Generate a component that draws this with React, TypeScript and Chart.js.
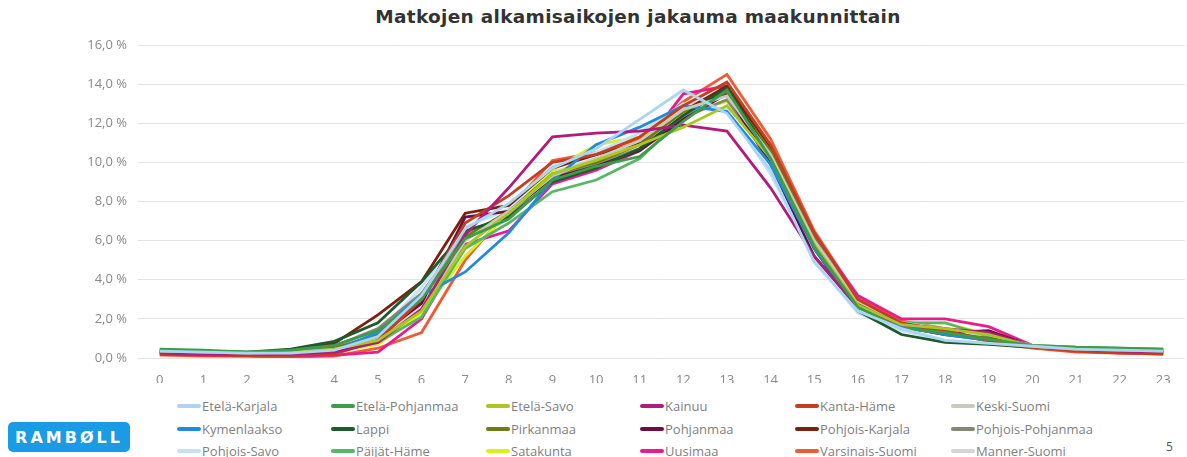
import React, { useEffect, useRef } from "react";
import { Chart, registerables } from "chart.js";

Chart.register(...registerables);

const TITLE = "Matkojen alkamisaikojen jakauma maakunnittain";
const HOURS = ["0","1","2","3","4","5","6","7","8","9","10","11","12","13","14","15","16","17","18","19","20","21","22","23"];
const Y_TICKS_MIN = 0;
const Y_TICKS_MAX = 16;
const Y_STEP = 2;

const NAMES = [
  "Etelä-Karjala", "Etelä-Pohjanmaa", "Etelä-Savo", "Kainuu", "Kanta-Häme", "Keski-Suomi",
  "Kymenlaakso", "Lappi", "Pirkanmaa", "Pohjanmaa", "Pohjois-Karjala", "Pohjois-Pohjanmaa",
  "Pohjois-Savo", "Päijät-Häme", "Satakunta", "Uusimaa", "Varsinais-Suomi", "Manner-Suomi",
];

const COLORS = [
  "#ACD5F2", "#3C9C4C", "#A8C720", "#B01C7E", "#C43E22", "#CBC9BD",
  "#1F8BE0", "#1F5A2B", "#6D7D14", "#6B1040", "#7C2012", "#858774",
  "#C2E2F6", "#56B866", "#D9F01C", "#E91C8F", "#EE5C36", "#D5D5D5",
];

const etelaKarjala = [0.35,0.3,0.25,0.25,0.4,1.1,3.2,6.6,7.9,9.7,10.7,12.2,13.7,12.5,9.6,4.9,2.4,1.5,0.9,0.75,0.6,0.45,0.4,0.35];
const etelaPohjanmaa = [0.45,0.4,0.3,0.4,0.65,1.4,3.0,6.1,7.1,9.1,9.8,10.3,12.1,13.7,10.2,5.7,2.6,1.5,1.3,0.95,0.65,0.55,0.5,0.45];
const etelaSavo = [0.35,0.3,0.25,0.3,0.45,0.9,2.4,5.7,7.4,9.4,10.1,10.9,11.8,12.9,10.2,5.8,2.7,1.7,1.5,1.2,0.6,0.45,0.4,0.35];
const kainuu = [0.25,0.2,0.2,0.2,0.3,0.8,2.5,6.3,8.7,11.3,11.5,11.6,11.9,11.6,8.7,5.2,2.6,1.7,1.5,1.3,0.6,0.45,0.35,0.3];
const kantaHame = [0.2,0.15,0.12,0.12,0.2,0.9,3.0,6.9,8.3,10.0,10.4,11.3,12.9,14.1,10.9,6.4,3.0,1.8,1.4,0.9,0.55,0.35,0.25,0.2];
const keskiSuomi = [0.35,0.3,0.25,0.25,0.35,0.9,2.5,6.0,7.5,9.3,10.2,11.1,12.7,13.4,10.4,6.0,2.9,1.8,1.5,1.2,0.65,0.5,0.4,0.35];
const kymenlaakso = [0.3,0.25,0.2,0.2,0.35,1.3,3.2,4.4,6.4,9.1,10.9,11.8,12.9,12.6,9.9,5.6,2.6,1.6,1.2,0.9,0.6,0.45,0.35,0.3];
const lappi = [0.4,0.35,0.3,0.45,0.85,1.8,3.9,6.5,7.2,9.0,9.7,10.7,12.4,13.8,10.3,5.6,2.4,1.2,0.8,0.7,0.55,0.5,0.45,0.4];
const pirkanmaa = [0.35,0.3,0.25,0.3,0.5,1.2,3.0,6.2,7.5,9.4,10.0,10.9,12.6,13.6,10.6,6.1,2.8,1.6,1.3,1.0,0.6,0.45,0.4,0.35];
const pohjanmaa = [0.3,0.25,0.2,0.25,0.45,1.1,2.8,7.2,7.5,9.2,9.8,10.6,12.2,13.5,9.9,5.2,2.6,1.6,1.3,1.4,0.6,0.45,0.35,0.3];
const pohjoisKarjala = [0.3,0.25,0.25,0.35,0.75,2.2,3.9,7.4,7.8,9.7,10.4,11.0,12.6,13.9,10.7,6.0,2.7,1.6,1.2,1.0,0.6,0.45,0.35,0.3];
const pohjoisPohjanmaa = [0.35,0.3,0.25,0.3,0.6,1.5,3.3,6.4,7.3,9.3,9.9,10.7,12.3,13.2,10.1,5.8,2.7,1.6,1.2,0.9,0.6,0.5,0.45,0.4];
const pohjoisSavo = [0.35,0.3,0.25,0.3,0.45,1.3,3.6,6.7,7.6,9.8,10.5,11.5,13.0,12.7,9.4,5.0,2.3,1.4,0.9,0.75,0.55,0.45,0.4,0.35];
const paijatHame = [0.4,0.35,0.3,0.3,0.45,0.8,2.1,5.6,6.9,8.5,9.1,10.2,12.3,13.8,10.5,6.0,2.8,1.8,1.8,1.1,0.65,0.55,0.5,0.45];
const satakunta = [0.3,0.25,0.2,0.2,0.3,0.7,2.3,5.2,7.4,9.6,10.9,11.3,12.6,13.1,10.3,5.8,2.7,1.8,1.8,1.2,0.6,0.45,0.35,0.3];
const uusimaa = [0.2,0.15,0.12,0.1,0.15,0.3,2.0,5.8,6.5,8.9,9.6,10.6,13.5,13.9,10.6,6.3,3.2,2.0,2.0,1.6,0.65,0.4,0.3,0.25];
const varsinaisSuomi = [0.15,0.1,0.08,0.05,0.1,0.5,1.3,5.0,7.6,10.1,10.5,11.2,13.1,14.5,11.2,6.5,3.1,1.9,1.5,0.8,0.5,0.3,0.25,0.2];
const mannerSuomi = [0.3,0.25,0.2,0.25,0.4,1.0,2.7,6.2,7.4,9.5,10.2,11.1,12.8,13.6,10.4,5.9,2.8,1.7,1.4,1.1,0.6,0.45,0.35,0.3];

const SERIES = [
  etelaKarjala, etelaPohjanmaa, etelaSavo, kainuu, kantaHame, keskiSuomi,
  kymenlaakso, lappi, pirkanmaa, pohjanmaa, pohjoisKarjala, pohjoisPohjanmaa,
  pohjoisSavo, paijatHame, satakunta, uusimaa, varsinaisSuomi, mannerSuomi,
];

const LEGEND_COL_LEFT = [177, 331, 486, 640, 795, 951];
const LEGEND_ROW_TOP = [397, 420, 442];

export default function App() {
  const ref = useRef<HTMLCanvasElement | null>(null);

  useEffect(() => {
    document.body.style.margin = "0";
    if (!ref.current) return;
    const chart = new Chart(ref.current, {
      type: "line",
      data: {
        labels: HOURS,
        datasets: SERIES.map((d, i) => ({
          label: NAMES[i],
          data: d,
          borderColor: COLORS[i],
          backgroundColor: COLORS[i],
          borderWidth: 2.8,
          pointRadius: 0,
          tension: 0,
          fill: false,
        })),
      },
      options: {
        animation: false,
        responsive: false,
        maintainAspectRatio: false,
        layout: { padding: { top: 45, right: 2, bottom: 7, left: 0 } },
        plugins: {
          legend: { display: false },
          title: { display: false },
          tooltip: { enabled: false },
        },
        scales: {
          x: {
            offset: true,
            grid: { display: false },
            border: { display: false },
            ticks: {
              color: "#8a8a8a",
              font: { family: "'Open Sans', sans-serif", size: 13 },
              maxRotation: 0,
              autoSkip: false,
              padding: 6,
            },
            afterFit: (s: any) => { s.height = 25; },
          },
          y: {
            min: Y_TICKS_MIN,
            max: Y_TICKS_MAX,
            grid: { color: "#e4e4e4", lineWidth: 1, drawTicks: false },
            border: { display: false },
            ticks: {
              stepSize: Y_STEP,
              color: "#8a8a8a",
              padding: 11,
              font: { family: "'Open Sans', sans-serif", size: 13 },
              callback: (v: any) => Number(v).toFixed(1).replace(".", ",") + " %",
            },
            afterFit: (s: any) => { s.width = 138; },
          },
        },
      },
    });
    return () => chart.destroy();
  }, []);

  return (
    <div style={{ position: "relative", width: 1187, height: 457, background: "#fff", overflow: "hidden", fontFamily: "'Open Sans', sans-serif" }}>
      <div style={{ position: "absolute", left: 0, top: 6, width: 1276, textAlign: "center", fontFamily: "'DejaVu Sans', sans-serif", fontWeight: "bold", fontSize: 18.5, color: "#333", letterSpacing: 0.3 }}>
        {TITLE}
      </div>
      <canvas ref={ref} width={1187} height={390} style={{ position: "absolute", left: 0, top: 0 }} />
      {NAMES.map((n, i) => (
        <div key={n} style={{ position: "absolute", left: LEGEND_COL_LEFT[i % 6], top: LEGEND_ROW_TOP[Math.floor(i / 6)], height: 18, display: "flex", alignItems: "center", fontSize: 13, color: "#7f7f7f", whiteSpace: "nowrap" }}>
          <span style={{ display: "inline-block", width: 24, height: 4, borderRadius: 2, background: COLORS[i], marginRight: 1 }} />
          <span>{n}</span>
        </div>
      ))}
      <div style={{ position: "absolute", left: 8, top: 422, width: 122, height: 30, borderRadius: 5, background: "#1A9BE6", color: "#fff", display: "flex", alignItems: "center", justifyContent: "center", fontFamily: "'DejaVu Sans', sans-serif", fontWeight: "bold", fontSize: 16, letterSpacing: 3 }}>
        RAMBØLL
      </div>
      <div style={{ position: "absolute", left: 1166, top: 438, fontSize: 12, color: "#555" }}>5</div>
    </div>
  );
}
